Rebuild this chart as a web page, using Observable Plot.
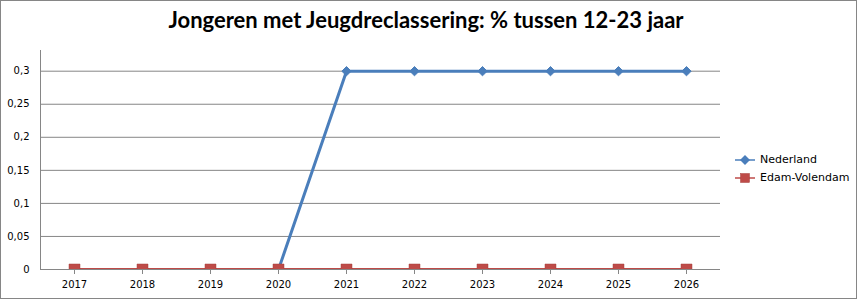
<!DOCTYPE html>
<html>
<head>
<meta charset="utf-8">
<script src="https://cdn.jsdelivr.net/npm/d3@7"></script>
<script src="https://cdn.jsdelivr.net/npm/@observablehq/plot@0.6"></script>
<style>
  html, body { margin: 0; padding: 0; background: #fff; }
  #wrap { position: relative; width: 857px; height: 299px; overflow: hidden; background: #fff; }
  #title { position: absolute; left: 0; top: 9px; width: 852px; text-align: center;
           font-family: Lato, "Open Sans", sans-serif; font-weight: 700; font-size: 22px; line-height: 22px; color: #000; }
  #legend { position: absolute; left: 735px; top: 151px; font-family: "DejaVu Sans", sans-serif; font-size: 11px; color: #000; }
  .row { height: 18px; line-height: 18px; display: flex; align-items: center; }
  .row svg { width: 20px; height: 12px; margin-right: 5px; }
  #border { position: absolute; left: 0; top: 0; width: 857px; height: 299px; box-sizing: border-box; border: 1px solid #868686; pointer-events: none; }
</style>
</head>
<body>
<div id="wrap">
  <div id="chart"></div>
  <div id="title"></div>
  <div id="legend"></div>
  <div id="border"></div>
</div>
<script>
const title = "Jongeren met Jeugdreclassering: % tussen 12-23 jaar";
const years = [2017, 2018, 2019, 2020, 2021, 2022, 2023, 2024, 2025, 2026];
const nederland = [0, 0, 0, 0, 0.3, 0.3, 0.3, 0.3, 0.3, 0.3];
const edamVolendam = [0, 0, 0, 0, 0, 0, 0, 0, 0, 0];
const yTicks = [0, 0.05, 0.1, 0.15, 0.2, 0.25, 0.3];
const seriesNames = ["Nederland", "Edam-Volendam"];
const colors = ["#4A7EBB", "#BE4B48"];

const ned = years.map((x, i) => ({x, y: nederland[i]}));
const edam = years.map((x, i) => ({x, y: edamVolendam[i]}));
const yMax = 0.3313;

const chart = Plot.plot({
  width: 857,
  height: 299,
  marginTop: 50,
  marginBottom: 30,
  marginLeft: 40,
  marginRight: 137,
  style: {fontFamily: "DejaVu Sans, sans-serif", fontSize: "10px", color: "#000", background: "transparent"},
  x: {type: "linear", domain: [years[0] - 0.5, years[years.length - 1] + 0.5], label: null},
  y: {domain: [0, yMax], ticks: yTicks, tickFormat: d => String(d).replace(".", ","),
      tickSize: 0, tickPadding: 11, label: null},
  marks: [
    Plot.ruleY(yTicks.filter(d => d > 0), {stroke: "#868686", strokeWidth: 1}),
    Plot.ruleX([years[0] - 0.5], {stroke: "#868686", strokeWidth: 1}),
    Plot.ruleY([0], {stroke: "#868686", strokeWidth: 1}),
    Plot.axisX({ticks: years, tickFormat: d => String(d), tickSize: 5, tickPadding: 6, stroke: "#868686"}),
    Plot.line(ned, {x: "x", y: "y", stroke: colors[0], strokeWidth: 3, clip: true}),
    Plot.dot(ned, {x: "x", y: "y", symbol: "diamond2", r: 4.2, fill: colors[0], stroke: colors[0], strokeWidth: 1, clip: true}),
    Plot.line(edam, {x: "x", y: "y", stroke: colors[1], strokeWidth: 3, clip: true}),
    Plot.dot(edam, {x: "x", y: "y", symbol: "square", r: 6.2, fill: colors[1], stroke: "#A6403D", strokeWidth: 0.5, clip: true})
  ]
});
document.getElementById("chart").appendChild(chart);
document.getElementById("title").textContent = title;

const legend = document.getElementById("legend");
seriesNames.forEach((name, i) => {
  const row = document.createElement("div");
  row.className = "row";
  const marker = i === 0
    ? `<polygon points="10,1 15,6 10,11 5,6" fill="${colors[0]}"/>`
    : `<rect x="5.5" y="1.5" width="9" height="9" fill="${colors[1]}" stroke="#A6403D" stroke-width="0.5"/>`;
  row.innerHTML = `<svg viewBox="0 0 20 12"><line x1="0" x2="20" y1="6" y2="6" stroke="${colors[i]}" stroke-width="1.5"/>${marker}</svg><span>${name}</span>`;
  legend.appendChild(row);
});
</script>
</body>
</html>
